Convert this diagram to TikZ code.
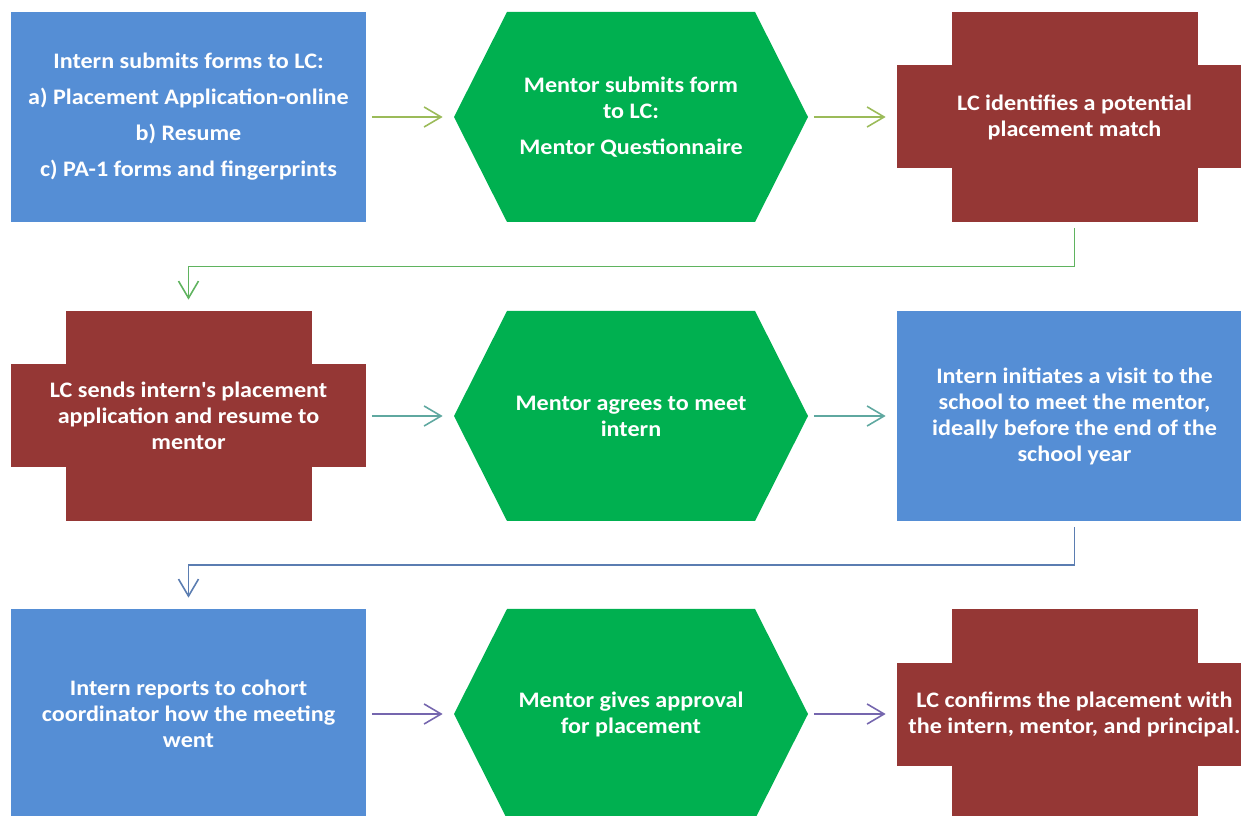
\documentclass[tikz,border=0pt]{standalone}
\usepackage{fontspec}
\setmainfont{Carlito}[FakeStretch=1.09]
\usetikzlibrary{arrows.meta,calc}
\definecolor{boxblue}{HTML}{558ED5}
\definecolor{hexgreen}{HTML}{00B050}
\definecolor{lcred}{HTML}{953735}
\definecolor{linkA}{HTML}{9BBB59}
\definecolor{linkB}{HTML}{5FB35F}
\definecolor{linkC}{HTML}{5FA8A0}
\definecolor{linkD}{HTML}{5B7DB1}
\definecolor{linkE}{HTML}{7566AE}
\tikzset{
  stage/.style={minimum width=7.1cm, minimum height=4.2cm, inner sep=0pt, align=center,
    text=white, font=\fontsize{12.6}{14.8}\selectfont\bfseries},
  internbox/.style={stage, fill=boxblue},
  mentorhex/.style={stage, minimum width=7.08cm,
    path picture={\fill[hexgreen] (path picture bounding box.west)
      -- ([xshift=1.06cm]path picture bounding box.north west)
      -- ([xshift=-1.06cm]path picture bounding box.north east)
      -- (path picture bounding box.east)
      -- ([xshift=-1.06cm]path picture bounding box.south east)
      -- ([xshift=1.06cm]path picture bounding box.south west) -- cycle;}},
  lccross/.style={stage,
    path picture={\fill[lcred] ([xshift=1.09cm]path picture bounding box.south west)
        rectangle ([xshift=-1.09cm]path picture bounding box.north east);
      \fill[lcred] ([yshift=1.07cm]path picture bounding box.south west)
        rectangle ([yshift=-1.07cm]path picture bounding box.north east);}},
  link/.style={line width=0.9pt, -{Straight Barb[length=0.34cm,width=0.4cm]},
    shorten <=0.11cm, shorten >=0.22cm},
}
\begin{document}
\begin{tikzpicture}
            \useasboundingbox (0,0) rectangle (24.82,-16.32);
            \clip (0,0) rectangle (24.82,-16.32);
            % first row
            \node [internbox] (submit) at (3.77,-2.34) {Intern submits forms to LC:\\[5.7pt] a) Placement Application-online\\[5.7pt] b) Resume\\[5.7pt] c) PA-1 forms and fingerprints};
            \node [mentorhex] (form) at (12.62,-2.34) {Mentor submits form\\ to LC:\\[5.7pt] Mentor Questionnaire};
            \node [lccross] (match) at (21.49,-2.34) {LC identifies a potential\\ placement match};
            % second row
            \node [lccross] (send) at (3.77,-8.32) {LC sends intern\textquotesingle s placement\\ application and resume to\\ mentor};
            \node [mentorhex] (agree) at (12.62,-8.32) {Mentor agrees to meet\\ intern};
            \node [internbox] (visit) at (21.49,-8.32) {Intern initiates a visit to the\\ school to meet the mentor,\\ ideally before the end of the\\ school year};
            % third row
            \node [internbox] (report) at (3.77,-14.28) {Intern reports to cohort\\ coordinator how the meeting\\ went};
            \node [mentorhex] (approve) at (12.62,-14.28) {Mentor gives approval\\ for placement};
            \node [lccross] (confirm) at (21.49,-14.28) {LC confirms the placement with\\ the intern, mentor, and principal.};
            \coordinate (turnA) at ($(match.south)!0.5!(send.north)$);
            \coordinate (turnB) at ($(visit.south)!0.5!(report.north)$);
            \draw [link, linkA] (submit) -- (form);
            \draw [link, linkA] (form) -- (match);
            \draw [link, linkB] (match.south) |- (send.north |- turnA) -- (send.north);
            \draw [link, linkC] (send) -- (agree);
            \draw [link, linkC] (agree) -- (visit);
            \draw [link, linkD] (visit.south) |- (report.north |- turnB) -- (report.north);
            \draw [link, linkE] (report) -- (approve);
            \draw [link, linkE] (approve) -- (confirm);
        \end{tikzpicture}
\end{document}
